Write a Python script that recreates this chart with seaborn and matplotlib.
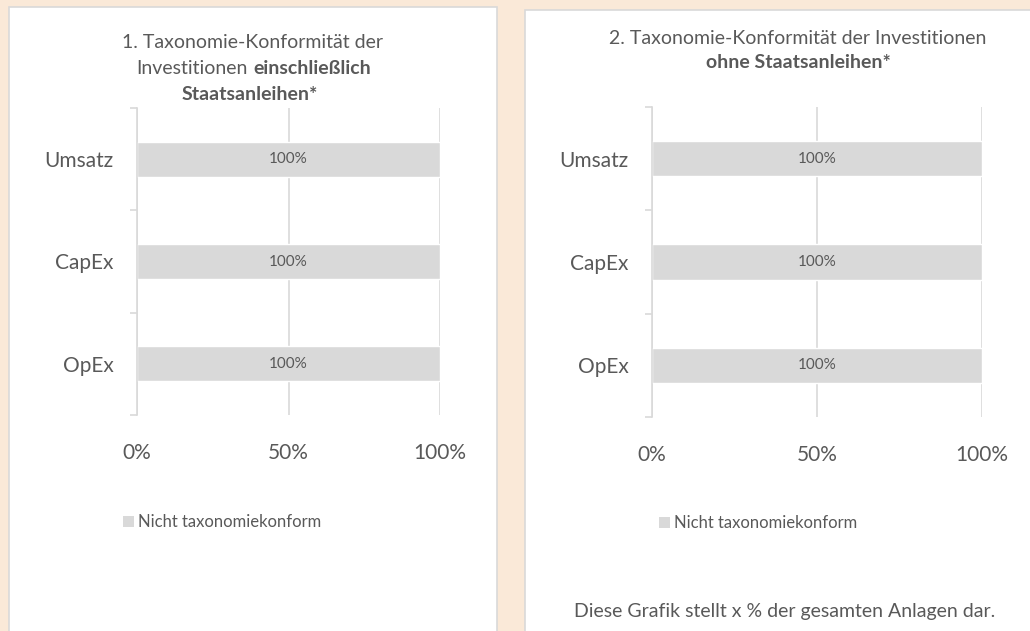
import matplotlib
matplotlib.use("Agg")
import matplotlib.pyplot as plt
import seaborn as sns
from matplotlib.patches import Rectangle, Patch

# Data
categories = ["Umsatz", "CapEx", "OpEx"]
incl_sovereign = [100, 100, 100]
excl_sovereign = [100, 100, 100]
x_ticks = [0, 50, 100]
x_tick_labels = ["0%", "50%", "100%"]
legend_label = "Nicht taxonomiekonform"
footnote = "Diese Grafik stellt x % der gesamten Anlagen dar."

W, H = 1030, 631
BG = "#FAE9D8"
GREY = "#D9D9D9"
TXT = "#595959"
FONT = "Lato"

sns.set_style("white")
plt.rcParams["font.family"] = [FONT, "DejaVu Sans"]


def px(x, y):
    # pixel coords (top-left origin) -> figure fraction
    return x / W, 1 - y / H


def draw_panel(ax, values):
    sns.barplot(x=values, y=categories, orient="h", color=GREY, width=0.34,
                saturation=1, ax=ax)
    ax.set_xlim(0, 100)
    ax.set_ylim(2.5, -0.5)
    ax.set_xticks(x_ticks)
    ax.set_xticklabels(x_tick_labels)
    ax.set_xlabel("")
    ax.set_ylabel("")
    ax.grid(axis="x", color=GREY, linewidth=1.2)
    ax.set_axisbelow(True)
    for s in ["top", "right", "bottom"]:
        ax.spines[s].set_visible(False)
    ax.spines["left"].set_color(GREY)
    ax.spines["left"].set_linewidth(1.2)
    ax.tick_params(axis="x", length=0, pad=20, labelsize=15, labelcolor=TXT)
    ax.tick_params(axis="y", which="major", left=True, length=0, pad=17,
                   labelsize=15, labelcolor=TXT)
    # small category separators on the y axis
    ax.set_yticks([-0.5, 0.5, 1.5, 2.5], minor=True)
    ax.tick_params(axis="y", which="minor", left=True, length=5, color=GREY,
                   width=1.2)
    ax.patch.set_alpha(0)
    for c in ax.containers:
        ax.bar_label(c, labels=[f"{v}%" for v in values], label_type="center",
                     fontsize=11, color=TXT)


fig = plt.figure(figsize=(W / 100, H / 100), dpi=100)
fig.patch.set_facecolor(BG)

# white panels behind the charts
fig.patches.append(Rectangle(px(9, 640), 488 / W, 633 / H, transform=fig.transFigure,
                             facecolor="white", edgecolor=GREY, linewidth=1.2, zorder=-1))
fig.patches.append(Rectangle(px(525, 640), 520 / W, 630 / H, transform=fig.transFigure,
                             facecolor="white", edgecolor=GREY, linewidth=1.2, zorder=-1))

ax1 = fig.add_axes([137 / W, 1 - 415 / H, 303 / W, 307 / H])
ax2 = fig.add_axes([652 / W, 1 - 417 / H, 330 / W, 310 / H])
draw_panel(ax1, incl_sovereign)
draw_panel(ax2, excl_sovereign)

# titles (mixed normal / bold)
tkw = dict(fontsize=14, color=TXT, va="center")
fig.text(*px(252, 43), "1. Taxonomie-Konformität der", ha="center", **tkw)
fig.text(*px(248, 69), "Investitionen", ha="right", **tkw)
fig.text(*px(253, 69), "einschließlich", ha="left", fontweight="bold", **tkw)
fig.text(*px(250, 94), "Staatsanleihen*", ha="center", fontweight="bold", **tkw)

fig.text(*px(798, 38), "2. Taxonomie-Konformität der Investitionen", ha="center", **tkw)
fig.text(*px(798, 63), "ohne Staatsanleihen*", ha="center", fontweight="bold", **tkw)

# legends
handle = [Patch(facecolor=GREY, edgecolor="none", label=legend_label)]
for (lx, ly) in [(123, 522), (659, 523)]:
    fig.legend(handles=handle, loc="center left", bbox_to_anchor=px(lx, ly),
               frameon=False, fontsize=12, labelcolor=TXT, handlelength=0.65,
               handleheight=0.65, handletextpad=0.25, borderaxespad=0, borderpad=0)

fig.text(*px(785, 612), footnote, ha="center", va="center", fontsize=14, color=TXT)

fig.savefig("out.png", dpi=100, facecolor=BG)
